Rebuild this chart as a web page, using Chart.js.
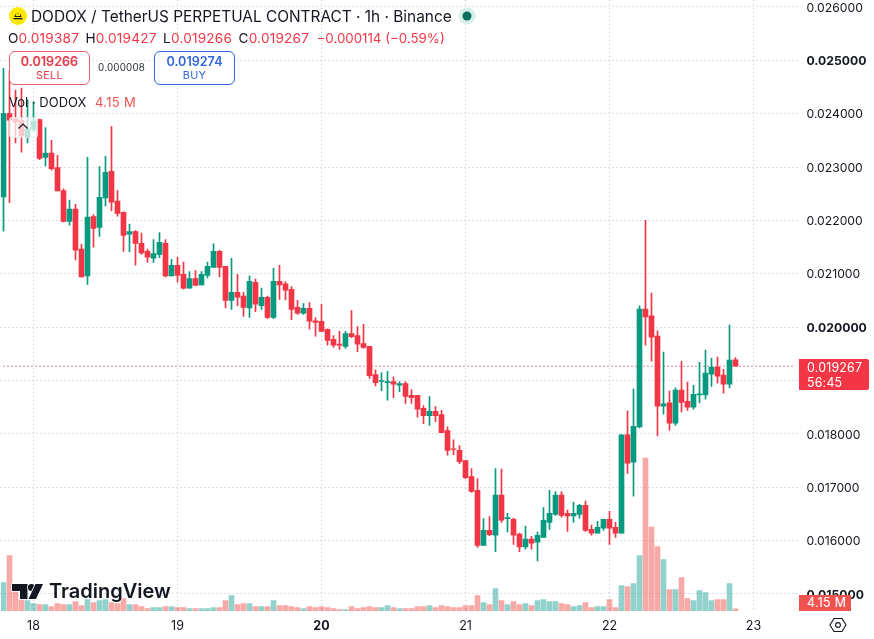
<!DOCTYPE html>
<html>
<head>
<meta charset="utf-8">
<title>DODOX / TetherUS 1h</title>
<script src="https://cdn.jsdelivr.net/npm/chart.js@4"></script>
<style>
    html, body { margin: 0; padding: 0; background: #fff; }
    body { width: 874px; height: 639px; position: relative; overflow: hidden; font-family: Inter, "Noto Sans", sans-serif; color: #131722; }
    canvas { position: absolute; left: 0; top: 0; }
    .abs { position: absolute; white-space: nowrap; }
    .title { left: 31px; top: 7px; font-size: 15.4px; line-height: 20px; }
    .ohlc { left: 8px; top: 29px; font-size: 13.6px; line-height: 18px; letter-spacing: 0.2px; }
    .ohlc span { color: #f23645; margin-right: 6.5px; }
    .ohlc span.change { letter-spacing: 0; margin-left: 1px; font-size: 13.3px; }
    .ohlc b { font-weight: 400; }
    .trade { top: 51px; width: 79px; height: 32px; border: 1px solid; border-radius: 6px; background: #fff; text-align: center; }
    .trade .p { font-size: 12.6px; font-weight: 600; line-height: 15px; margin-top: 2px; }
    .trade .l { font-size: 10.8px; line-height: 13px; letter-spacing: 0.3px; }
    .sell { left: 9px; border-color: #e0606e; color: #e5394b; }
    .buy { left: 154px; border-color: #2f66de; color: #2f66de; }
    .spread { left: 98px; top: 61px; font-size: 9.8px; line-height: 14px; letter-spacing: 0.2px; color: #2a2e39; }
    .vol { left: 9px; top: 93px; font-size: 13px; line-height: 18px; }
    .vol span { color: #ef5350; margin-left: 5px; letter-spacing: 0.3px; }
    .collapse { left: 9px; top: 117px; width: 27px; height: 19px; background: rgba(255,255,255,0.72); border: 1px solid rgba(200,210,205,0.4); border-radius: 3px; }
    .tag { left: 799px; color: #fff; font-size: 12.4px; line-height: 15px; padding-left: 8px; box-sizing: border-box; }
    .price-tag { top: 359px; width: 70px; height: 31px; background: #f23645; border-radius: 0 2px 2px 0; padding-top: 1px; letter-spacing: 0.2px; }
    .vol-tag { top: 595px; width: 52px; height: 16px; background: #ef5350; letter-spacing: 0.3px; }
</style>
</head>
<body>
<canvas id="chart" width="874" height="639"></canvas>

<!-- collapse button over the first candles -->
<div class="abs collapse"></div>
<svg class="abs" style="left:17px;top:122px" width="12" height="8"><path d="M1.5 6.5 L6 2 L10.5 6.5" fill="none" stroke="#131722" stroke-width="1.2"/></svg>

<!-- symbol header -->
<svg class="abs" style="left:9px;top:7px" width="18" height="18">
    <circle cx="9" cy="9" r="9" fill="#ffe900"/>
    <path d="M5.5 10 a3.5 3.5 0 0 1 7 0 z M6.6 9 h4.8 a2.4 2.4 0 0 0 -4.8 0 z" fill="#131722" fill-rule="evenodd"/>
    <rect x="4.5" y="11" width="9" height="1.3" fill="#131722"/>
</svg>
<div class="abs title">DODOX / TetherUS PERPETUAL CONTRACT · 1h · Binance</div>
<svg class="abs" style="left:458px;top:7px" width="18" height="18">
    <circle cx="9" cy="9" r="8.5" fill="#d5efe9"/>
    <circle cx="9" cy="9" r="4.5" fill="#0b6e5b"/>
</svg>
<div class="abs ohlc"><b>O</b><span>0.019387</span><b>H</b><span>0.019427</span><b>L</b><span>0.019266</span><b>C</b><span>0.019267</span><span class="change">−0.000114 (−0.59%)</span></div>

<div class="abs trade sell"><div class="p">0.019266</div><div class="l">SELL</div></div>
<div class="abs spread">0.000008</div>
<div class="abs trade buy"><div class="p">0.019274</div><div class="l">BUY</div></div>

<div class="abs vol">Vol · DODOX <span>4.15 M</span></div>

<!-- last price and volume tags on the price axis -->
<div class="abs tag price-tag">0.019267<br>56:45</div>
<div class="abs tag vol-tag">4.15 M</div>

<!-- watermark -->
<svg class="abs" style="left:8px;top:578px" width="170" height="28">
    <g fill="#131722" stroke="#fff" stroke-width="1.5" paint-order="stroke">
        <path d="M4 6 H19.5 V21 H12 V13 H4 Z"/>
        <circle cx="23.5" cy="9.5" r="3.6"/>
        <path d="M27.5 6 H35 L28 21 H20.5 Z"/>
        <text x="41" y="20" font-family="Inter, sans-serif" font-size="20" font-weight="600">TradingView</text>
    </g>
</svg>

<!-- chart settings icon -->
<svg class="abs" style="left:829px;top:616px" width="18" height="18">
    <path d="M5 2.5 H13 L17 9 L13 15.5 H5 L1 9 Z" fill="none" stroke="#131722" stroke-width="1.1"/>
    <circle cx="9" cy="9" r="2.4" fill="none" stroke="#131722" stroke-width="1.1"/>
</svg>

<script>
// Hourly candles up to the start of the 23rd
const open = [
    0.02244, 0.02400, 0.02390, 0.02387, 0.02356, 0.02370, 0.02389, 0.02318, 0.02326, 0.02299,
    0.02256, 0.02198, 0.02221, 0.02146, 0.02096, 0.02207, 0.02187, 0.02242, 0.02292, 0.02236,
    0.02215, 0.02174, 0.02179, 0.02157, 0.02142, 0.02129, 0.02136, 0.02157, 0.02096, 0.02116,
    0.02099, 0.02073, 0.02091, 0.02079, 0.02097, 0.02112, 0.02142, 0.02114, 0.02050, 0.02065,
    0.02058, 0.02036, 0.02084, 0.02040, 0.02056, 0.02018, 0.02086, 0.02081, 0.02071, 0.02037,
    0.02026, 0.02035, 0.02012, 0.02011, 0.01996, 0.01977, 0.01968, 0.01964, 0.01988, 0.01984,
    0.01969, 0.01964, 0.01911, 0.01898, 0.01896, 0.01898, 0.01891, 0.01894, 0.01872, 0.01872,
    0.01848, 0.01834, 0.01842, 0.01836, 0.01806, 0.01772, 0.01769, 0.01750, 0.01720, 0.01694,
    0.01591, 0.01619, 0.01610, 0.01685, 0.01641, 0.01640, 0.01612, 0.01588, 0.01603, 0.01597,
    0.01606, 0.01634, 0.01649, 0.01685, 0.01651, 0.01646, 0.01649, 0.01666, 0.01621, 0.01614,
    0.01623, 0.01640, 0.01625, 0.01614, 0.01798, 0.01747, 0.01813, 0.02034, 0.02021, 0.01983,
    0.01852, 0.01858, 0.01820, 0.01882, 0.01861, 0.01850, 0.01873, 0.01873, 0.01912, 0.01925,
    0.01910, 0.01893, 0.019387
];
const high = [
    0.02485, 0.02480, 0.02444, 0.02448, 0.02426, 0.02422, 0.02390, 0.02374, 0.02350, 0.02322,
    0.02259, 0.02238, 0.02230, 0.02155, 0.02318, 0.02211, 0.02301, 0.02320, 0.02376, 0.02256,
    0.02216, 0.02193, 0.02181, 0.02176, 0.02146, 0.02164, 0.02177, 0.02164, 0.02127, 0.02131,
    0.02122, 0.02104, 0.02106, 0.02104, 0.02122, 0.02156, 0.02144, 0.02114, 0.02129, 0.02099,
    0.02065, 0.02096, 0.02090, 0.02073, 0.02058, 0.02110, 0.02116, 0.02085, 0.02076, 0.02050,
    0.02044, 0.02046, 0.02018, 0.02043, 0.01997, 0.01984, 0.01992, 0.01992, 0.02031, 0.02001,
    0.02005, 0.01964, 0.01920, 0.01915, 0.01917, 0.01907, 0.01898, 0.01898, 0.01883, 0.01872,
    0.01853, 0.01870, 0.01851, 0.01844, 0.01813, 0.01789, 0.01778, 0.01750, 0.01735, 0.01716,
    0.01641, 0.01645, 0.01735, 0.01734, 0.01651, 0.01642, 0.01614, 0.01627, 0.01608, 0.01616,
    0.01662, 0.01694, 0.01692, 0.01692, 0.01657, 0.01672, 0.01668, 0.01674, 0.01629, 0.01636,
    0.01640, 0.01655, 0.01634, 0.01798, 0.01843, 0.01884, 0.02040, 0.02200, 0.02064, 0.01993,
    0.01953, 0.01880, 0.01886, 0.01936, 0.01897, 0.01891, 0.01934, 0.01957, 0.01942, 0.01944,
    0.01921, 0.02004, 0.019427
];
const low = [
    0.02180, 0.02233, 0.02345, 0.02328, 0.02345, 0.02366, 0.02314, 0.02302, 0.02294, 0.02255,
    0.02197, 0.02191, 0.02126, 0.02094, 0.02080, 0.02150, 0.02170, 0.02227, 0.02218, 0.02208,
    0.02142, 0.02141, 0.02116, 0.02136, 0.02121, 0.02121, 0.02130, 0.02094, 0.02096, 0.02084,
    0.02071, 0.02073, 0.02078, 0.02079, 0.02092, 0.02112, 0.02094, 0.02036, 0.02033, 0.02040,
    0.02020, 0.02018, 0.02029, 0.02033, 0.02016, 0.02016, 0.02052, 0.02051, 0.02014, 0.02024,
    0.02024, 0.01996, 0.01983, 0.01992, 0.01966, 0.01962, 0.01958, 0.01960, 0.01980, 0.01954,
    0.01960, 0.01904, 0.01890, 0.01881, 0.01863, 0.01868, 0.01879, 0.01857, 0.01857, 0.01831,
    0.01819, 0.01816, 0.01823, 0.01802, 0.01760, 0.01761, 0.01744, 0.01716, 0.01690, 0.01587,
    0.01591, 0.01609, 0.01579, 0.01634, 0.01616, 0.01593, 0.01579, 0.01584, 0.01584, 0.01562,
    0.01606, 0.01621, 0.01647, 0.01644, 0.01617, 0.01634, 0.01642, 0.01617, 0.01610, 0.01614,
    0.01619, 0.01593, 0.01606, 0.01614, 0.01726, 0.01683, 0.01811, 0.01966, 0.01936, 0.01796,
    0.01837, 0.01807, 0.01816, 0.01841, 0.01844, 0.01846, 0.01858, 0.01865, 0.01889, 0.01895,
    0.01876, 0.01886, 0.019266
];
const close = [
    0.02400, 0.02388, 0.02384, 0.02358, 0.02371, 0.02386, 0.02316, 0.02326, 0.02297, 0.02255,
    0.02198, 0.02221, 0.02144, 0.02094, 0.02206, 0.02185, 0.02243, 0.02290, 0.02234, 0.02213,
    0.02172, 0.02179, 0.02157, 0.02139, 0.02131, 0.02138, 0.02159, 0.02096, 0.02116, 0.02097,
    0.02073, 0.02091, 0.02078, 0.02099, 0.02114, 0.02142, 0.02112, 0.02050, 0.02065, 0.02056,
    0.02037, 0.02086, 0.02043, 0.02056, 0.02018, 0.02086, 0.02079, 0.02069, 0.02033, 0.02026,
    0.02035, 0.02011, 0.02009, 0.01992, 0.01975, 0.01966, 0.01966, 0.01988, 0.01982, 0.01968,
    0.01962, 0.01909, 0.01896, 0.01900, 0.01898, 0.01893, 0.01894, 0.01870, 0.01868, 0.01846,
    0.01834, 0.01842, 0.01834, 0.01802, 0.01769, 0.01771, 0.01748, 0.01718, 0.01692, 0.01591,
    0.01619, 0.01611, 0.01685, 0.01638, 0.01643, 0.01610, 0.01588, 0.01603, 0.01595, 0.01610,
    0.01638, 0.01651, 0.01685, 0.01647, 0.01646, 0.01651, 0.01666, 0.01619, 0.01614, 0.01625,
    0.01640, 0.01623, 0.01614, 0.01798, 0.01745, 0.01814, 0.02034, 0.02019, 0.01981, 0.01852,
    0.01856, 0.01820, 0.01882, 0.01859, 0.01850, 0.01874, 0.01875, 0.01914, 0.01925, 0.01908,
    0.01893, 0.01938, 0.019267
];
// volume in millions
const volume = [
    57, 111, 41, 23, 21, 15, 13, 13, 9, 15,
    13, 13, 19, 11, 23, 17, 21, 23, 17, 15,
    25, 13, 13, 9, 5, 7, 7, 9, 9, 7,
    7, 5, 5, 5, 5, 7, 7, 21, 31, 13,
    15, 15, 9, 9, 9, 21, 11, 11, 9, 7,
    5, 9, 7, 9, 7, 5, 3, 3, 9, 5,
    7, 9, 7, 7, 11, 7, 5, 5, 5, 9,
    9, 11, 7, 11, 9, 7, 7, 11, 11, 31,
    17, 13, 45, 21, 13, 19, 13, 15, 11, 21,
    23, 19, 19, 15, 13, 9, 11, 17, 7, 9,
    9, 23, 7, 51, 49, 55, 111, 306, 168, 129,
    103, 43, 43, 67, 25, 21, 41, 37, 21, 23,
    23, 55, 4.15
];

const dayLabels = ['18', '19', '20', '21', '22', '23'];
const dayCandle = [5, 29, 53, 77, 101, 125];
const boldDay = '20';
const priceTicks = [0.026, 0.025, 0.024, 0.023, 0.022, 0.021, 0.020, 0.019, 0.018, 0.017, 0.016, 0.015];
const boldPrices = [0.025, 0.020, 0.015];
const lastPrice = 0.019267;

const upColor = '#089981';
const downColor = '#f23645';
const gridColor = '#bcc0c8';
const fontFamily = 'Inter, "Noto Sans", sans-serif';

// room for the empty hours to the right of the last candle
const slots = Array.from({ length: 133 }, (_, i) => i);
const isUp = close.map((c, i) => c >= open[i]);
const candleColors = isUp.map(up => up ? upColor : downColor);
const volumeColors = isUp.map(up => up ? 'rgba(38,166,154,0.5)' : 'rgba(239,83,80,0.5)');

new Chart(document.getElementById('chart').getContext('2d'), {
    type: 'bar',
    data: {
        labels: slots,
        datasets: [
            {
                type: 'line',
                data: slots.map(() => lastPrice),
                yAxisID: 'y',
                order: 4,
                borderColor: '#8f1f3c',
                borderWidth: 1,
                borderDash: [1, 3],
                pointRadius: 0,
                animation: false
            },
            {
                data: volume,
                yAxisID: 'vol',
                order: 3,
                grouped: false,
                backgroundColor: volumeColors,
                barThickness: 5
            },
            {
                data: high.map((h, i) => [low[i], h]),
                yAxisID: 'y',
                order: 2,
                grouped: false,
                backgroundColor: candleColors,
                barThickness: 1
            },
            {
                data: open.map((o, i) => [o, close[i]]),
                yAxisID: 'y',
                order: 1,
                grouped: false,
                backgroundColor: candleColors,
                barThickness: 5
            }
        ]
    },
    options: {
        responsive: false,
        animation: false,
        layout: { padding: { left: 0.5, right: 0, top: 0, bottom: 0 } },
        plugins: { legend: { display: false }, tooltip: { enabled: false } },
        scales: {
            x: {
                afterBuildTicks: scale => {
                    scale.ticks = dayCandle.map(value => ({ value }));
                },
                afterFit: scale => {
                    scale.height = 28;
                    scale.paddingLeft = 0;
                    scale.paddingRight = 0;
                },
                grid: { color: gridColor, offset: false, drawTicks: false },
                border: { display: false, dash: [1, 3] },
                ticks: {
                    autoSkip: false,
                    maxRotation: 0,
                    padding: 8,
                    color: '#131722',
                    callback: value => dayLabels[dayCandle.indexOf(value)],
                    font: ctx => ({
                        family: fontFamily,
                        size: 12.5,
                        weight: ctx.tick && ctx.tick.label === boldDay ? '700' : '400'
                    })
                }
            },
            y: {
                position: 'right',
                min: 0.01468,
                max: 0.02613,
                afterBuildTicks: scale => {
                    scale.ticks = priceTicks.map(value => ({ value }));
                },
                afterFit: scale => {
                    scale.width = 75.5;
                    scale.paddingTop = 0;
                    scale.paddingBottom = 0;
                },
                grid: { color: gridColor, drawTicks: false },
                border: { display: false, dash: [1, 3] },
                ticks: {
                    padding: 8,
                    labelOffset: 1,
                    color: '#131722',
                    callback: value => value.toFixed(6),
                    font: ctx => ({
                        family: fontFamily,
                        size: 12.2,
                        weight: ctx.tick && boldPrices.includes(ctx.tick.value) ? '700' : '400'
                    })
                }
            },
            // volume pane shares the lower part of the price area, half a pixel per million
            vol: {
                display: false,
                position: 'right',
                min: 0,
                max: 1222,
                grid: { display: false }
            }
        }
    }
});
</script>
</body>
</html>
